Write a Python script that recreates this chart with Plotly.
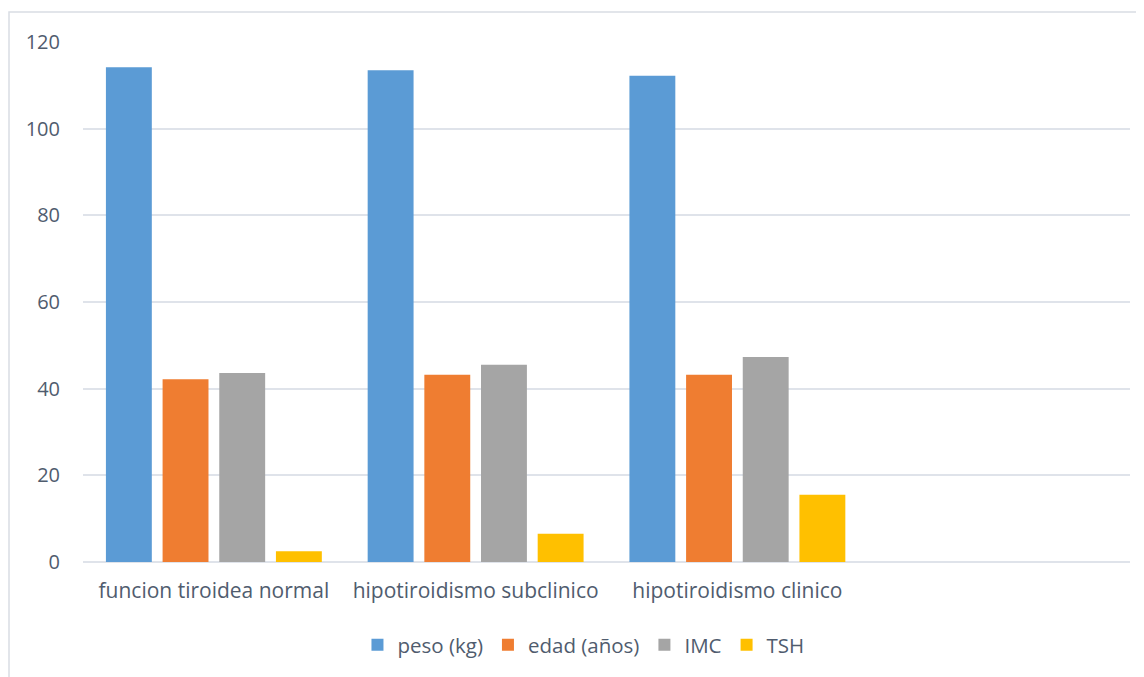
import plotly.graph_objects as go

categories = ["funcion tiroidea normal", "hipotiroidismo subclinico", "hipotiroidismo clinico", " "]
peso = [114.2, 113.5, 112.2, None]
edad = [42.2, 43.2, 43.2, None]
imc = [43.6, 45.5, 47.3, None]
tsh = [2.5, 6.5, 15.5, None]
series_names = ["peso (kg)", "edad (años)", "IMC", "TSH"]
colors = ["#5b9bd5", "#ef7d31", "#a5a5a5", "#ffc000"]

# page body has an 8px offset; margins compensate so the plot lands where the reference has it
W, H = 1144, 677
ml, mr, mt, mb = 75, 22, 34, 123
pw, ph = W - ml - mr, H - mt - mb
text_color = "#505c6e"
font_family = "'Open Sans', sans-serif"

fig = go.Figure()
for name, vals, col in zip(series_names, [peso, edad, imc, tsh], colors):
    fig.add_trace(go.Bar(x=categories, y=vals, name=name, marker=dict(color=col, line=dict(width=0))))

fig.update_layout(
    width=W, height=H,
    margin=dict(l=ml, r=mr, t=mt, b=mb),
    paper_bgcolor="white", plot_bgcolor="white",
    barmode="group", bargap=0.134, bargroupgap=0.19,
    font=dict(family=font_family, color=text_color, size=20),
    legend=dict(orientation="h", x=0.478, xanchor="center", y=-(645 - 562) / ph, yanchor="middle",
                font=dict(size=20.5, color=text_color), itemwidth=30, traceorder="normal"),
    showlegend=True,
)
fig.update_xaxes(type="category", categoryorder="array", categoryarray=categories,
                 range=[-0.5, 3.5], showline=False, ticks="", showgrid=False,
                 tickfont=dict(size=21, color=text_color), ticklabelstandoff=14)
fig.update_yaxes(range=[0, 120], dtick=20, showgrid=True, gridcolor="#dfe3ea", gridwidth=1.5,
                 zeroline=True, zerolinecolor="#dfe3ea", zerolinewidth=1.5, showline=False, ticks="",
                 tickfont=dict(size=20, color=text_color), ticklabelstandoff=22)
# chart frame border
fig.add_shape(type="rect", xref="paper", yref="paper",
              x0=(1 - ml) / pw, x1=(W + 10 - ml) / pw,
              y0=-(H + 10 - mt - ph) / ph, y1=1 + (mt - 4) / ph,
              line=dict(color="#d9dde4", width=1.5), fillcolor="rgba(0,0,0,0)", layer="below")

fig.write_html("out.html")
